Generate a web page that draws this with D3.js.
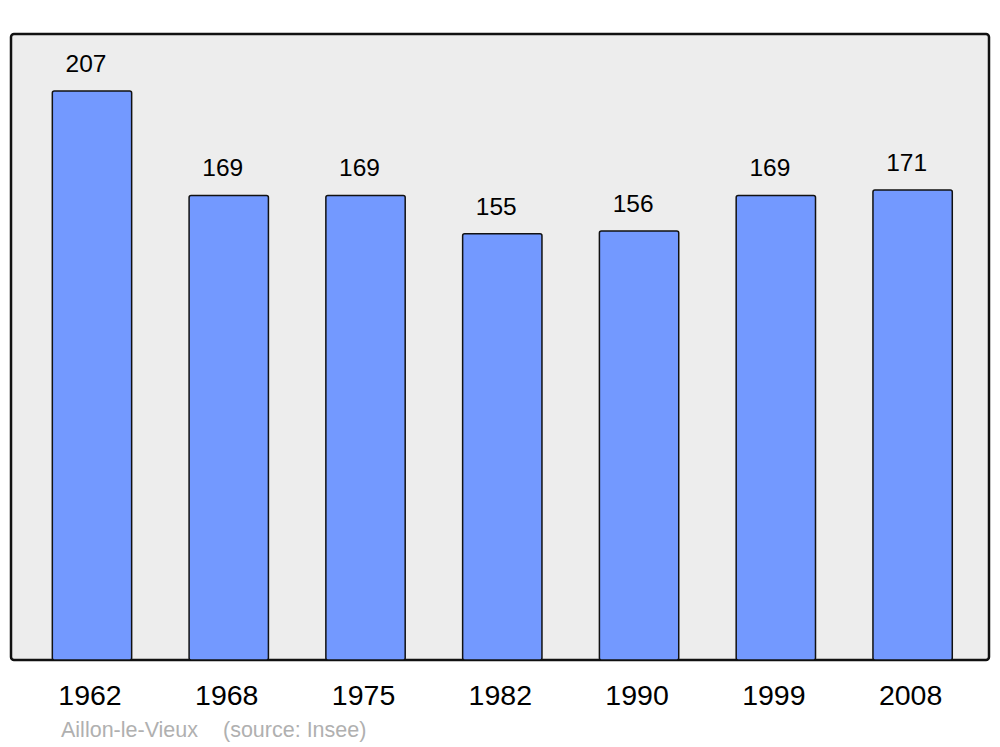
<!DOCTYPE html>
<html>
<head>
<meta charset="utf-8">
<script src="https://cdn.jsdelivr.net/npm/d3@7"></script>
<style>
  body { margin: 0; background: #fff; }
  text { font-family: "Liberation Sans", Arial, sans-serif; }
</style>
</head>
<body>
<svg id="chart"></svg>
<script>
var years = ["1962", "1968", "1975", "1982", "1990", "1999", "2008"];
var population = [207, 169, 169, 155, 156, 169, 171];
var place = "Aillon-le-Vieux";
var source = "(source: Insee)";

var width = 1000,
    height = 747;

var frame = {left: 11, top: 34, right: 989, bottom: 660};

var svg = d3.select("#chart")
    .attr("width", width)
    .attr("height", height);

// background panel
svg.append("rect")
    .attr("x", frame.left)
    .attr("y", frame.top)
    .attr("width", frame.right - frame.left)
    .attr("height", frame.bottom - frame.top)
    .attr("rx", 3)
    .attr("fill", "#ededed")
    .attr("stroke", "#111")
    .attr("stroke-width", 2.5);

var xScale = d3.scaleBand()
    .domain(years)
    .range([23.6, 981])
    .paddingInner(0.42)
    .paddingOuter(0.21);

var yScale = d3.scaleLinear()
    .domain([0, d3.max(population) * 1.1])
    .range([frame.bottom, frame.top]);

var data = years.map(function(y, i) { return {year: y, value: population[i]}; });

// bars
svg.selectAll(".bar")
    .data(data)
    .enter().append("rect")
    .attr("class", "bar")
    .attr("x", function(d) { return xScale(d.year); })
    .attr("y", function(d) { return yScale(d.value); })
    .attr("width", xScale.bandwidth())
    .attr("height", function(d) { return frame.bottom - yScale(d.value); })
    .attr("rx", 2)
    .attr("fill", "#7399ff")
    .attr("stroke", "#111")
    .attr("stroke-width", 1.5);

// value labels (sit a little left of the bar centre)
svg.selectAll(".val")
    .data(data)
    .enter().append("text")
    .attr("class", "val")
    .attr("x", function(d) { return xScale(d.year) + xScale.bandwidth() / 2 - 6; })
    .attr("y", function(d) { return yScale(d.value) - 19; })
    .attr("text-anchor", "middle")
    .attr("font-size", 24.5)
    .attr("fill", "#000")
    .text(function(d) { return d.value; });

// year axis
var xAxis = d3.axisBottom(xScale).tickSize(0).tickPadding(0);
var axisG = svg.append("g")
    .attr("transform", "translate(0," + frame.bottom + ")")
    .call(xAxis);
axisG.select(".domain").remove();
axisG.selectAll("text")
    .attr("dy", null)
    .attr("x", -2)
    .attr("y", 45)
    .attr("font-size", 28.5)
    .attr("font-family", "Liberation Sans, Arial, sans-serif")
    .attr("fill", "#000");

// caption
svg.append("text")
    .attr("x", 61)
    .attr("y", 737)
    .attr("font-size", 21.5)
    .attr("fill", "#b0b0b0")
    .text(place);
svg.append("text")
    .attr("x", 223)
    .attr("y", 737)
    .attr("font-size", 21.5)
    .attr("fill", "#b0b0b0")
    .text(source);
</script>
</body>
</html>
